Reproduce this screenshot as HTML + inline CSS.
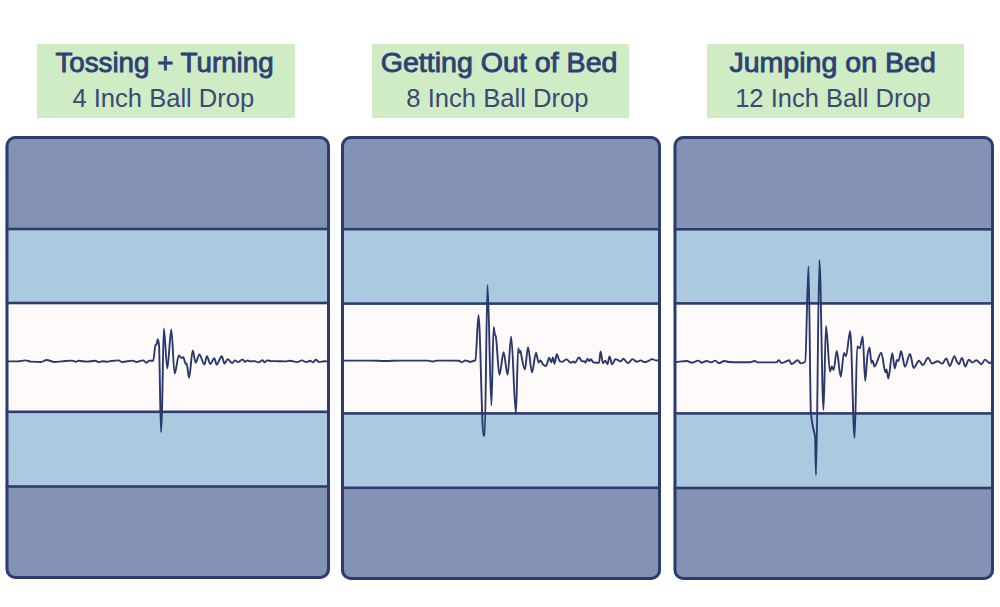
<!DOCTYPE html>
<html><head><meta charset="utf-8"><style>
html,body{margin:0;padding:0;background:#fff;width:1000px;height:607px;overflow:hidden}
svg{display:block}
</style></head><body>
<svg width="1000" height="607" viewBox="0 0 1000 607">
<clipPath id="c0"><rect x="5.5" y="136" width="324.5" height="443" rx="10" ry="10"/></clipPath>
<g clip-path="url(#c0)"><rect x="5.5" y="136" width="324.5" height="93" fill="#8493b5"/><rect x="5.5" y="229" width="324.5" height="74" fill="#abc9df"/><rect x="5.5" y="303" width="324.5" height="108.80000000000001" fill="#fffafa"/><rect x="5.5" y="411.8" width="324.5" height="74.69999999999999" fill="#abc9df"/><rect x="5.5" y="486.5" width="324.5" height="92.5" fill="#8493b5"/><rect x="5.5" y="227.7" width="324.5" height="2.6" fill="#2c3c6e"/><rect x="5.5" y="301.7" width="324.5" height="2.6" fill="#2c3c6e"/><rect x="5.5" y="410.5" width="324.5" height="2.6" fill="#2c3c6e"/><rect x="5.5" y="485.2" width="324.5" height="2.6" fill="#2c3c6e"/><path d="M8.00,361.40 C11.33,361.40 14.67,361.40 18.00,361.40 C20.43,361.40 22.87,360.40 25.30,360.40 C27.20,360.40 29.10,361.46 31.00,361.60 C34.33,361.84 37.67,362.00 41.00,362.00 C42.87,362.00 44.73,360.00 46.60,360.00 C49.23,360.00 51.87,362.00 54.50,362.00 C57.00,362.00 59.50,361.60 62.00,361.40 C65.27,361.14 68.53,360.60 71.80,360.60 C73.20,360.60 74.60,361.80 76.00,361.80 C76.87,361.80 77.73,360.80 78.60,360.80 C81.40,360.80 84.20,361.60 87.00,361.60 C89.67,361.60 92.33,360.80 95.00,360.80 C96.33,360.80 97.67,362.00 99.00,362.00 C100.33,362.00 101.67,361.20 103.00,361.20 C104.33,361.20 105.67,361.80 107.00,361.80 C108.33,361.80 109.67,361.16 111.00,361.00 C113.53,360.70 116.07,360.40 118.60,360.40 C119.80,360.40 121.00,362.00 122.20,362.00 C125.67,362.00 129.13,360.60 132.60,360.60 C133.93,360.60 135.27,362.00 136.60,362.00 C138.73,362.00 140.87,360.40 143.00,360.40 C144.20,360.40 145.40,362.80 146.60,362.80 C147.53,362.80 148.47,360.60 149.40,360.60 C150.67,360.60 151.93,360.80 153.20,360.80 C153.97,360.80 154.73,345.64 155.50,345.00 C155.83,344.72 156.17,344.79 156.50,344.50 C156.93,344.13 157.37,339.30 157.80,339.30 C158.20,339.30 158.60,341.79 159.00,345.00 C159.67,350.35 160.33,432.00 161.00,432.00 C161.33,432.00 161.67,419.56 162.00,410.00 C162.60,392.79 163.20,328.40 163.80,328.40 C164.97,328.40 166.13,368.50 167.30,368.50 C168.63,368.50 169.97,329.50 171.30,329.50 C172.40,329.50 173.50,373.60 174.60,373.60 C176.03,373.60 177.47,355.50 178.90,355.50 C179.77,355.50 180.63,358.00 181.50,358.00 C182.10,358.00 182.70,357.30 183.30,357.30 C184.13,357.30 184.97,364.00 185.80,364.00 C186.07,364.00 186.33,363.40 186.60,363.40 C187.43,363.40 188.27,377.90 189.10,377.90 C190.30,377.90 191.50,350.50 192.70,350.50 C193.70,350.50 194.70,362.70 195.70,362.70 C196.93,362.70 198.17,354.50 199.40,354.50 C201.07,354.50 202.73,364.60 204.40,364.60 C205.23,364.60 206.07,356.20 206.90,356.20 C208.03,356.20 209.17,364.00 210.30,364.00 C211.63,364.00 212.97,358.20 214.30,358.20 C215.10,358.20 215.90,364.60 216.70,364.60 C218.37,364.60 220.03,356.20 221.70,356.20 C222.67,356.20 223.63,363.60 224.60,363.60 C225.60,363.60 226.60,359.10 227.60,359.10 C229.17,359.10 230.73,363.10 232.30,363.10 C233.17,363.10 234.03,360.40 234.90,360.40 C236.00,360.40 237.10,362.10 238.20,362.10 C239.63,362.10 241.07,359.40 242.50,359.40 C243.37,359.40 244.23,361.80 245.10,361.80 C245.97,361.80 246.83,360.40 247.70,360.40 C248.47,360.40 249.23,361.40 250.00,361.40 C251.57,361.40 253.13,361.10 254.70,361.10 C256.00,361.10 257.30,362.40 258.60,362.40 C259.93,362.40 261.27,360.10 262.60,360.10 C263.27,360.10 263.93,362.40 264.60,362.40 C265.47,362.40 266.33,360.40 267.20,360.40 C268.50,360.40 269.80,361.06 271.10,361.10 C273.40,361.17 275.70,361.16 278.00,361.20 C280.33,361.24 282.67,361.40 285.00,361.40 C286.63,361.40 288.27,360.80 289.90,360.80 C292.30,360.80 294.70,362.10 297.10,362.10 C298.67,362.10 300.23,360.40 301.80,360.40 C303.33,360.40 304.87,362.10 306.40,362.10 C307.70,362.10 309.00,360.80 310.30,360.80 C311.20,360.80 312.10,362.40 313.00,362.40 C313.87,362.40 314.73,359.80 315.60,359.80 C316.93,359.80 318.27,362.10 319.60,362.10 C321.07,362.10 322.53,361.30 324.00,361.30 C325.33,361.30 326.67,361.43 328.00,361.50" fill="none" stroke="#2b386b" stroke-width="1.9" stroke-linejoin="round" stroke-linecap="round"/></g>
<rect x="7.0" y="137.5" width="321.5" height="440" rx="8.5" ry="8.5" fill="none" stroke="#2c3c6e" stroke-width="3"/>
<clipPath id="c1"><rect x="341" y="136" width="320" height="444" rx="10" ry="10"/></clipPath>
<g clip-path="url(#c1)"><rect x="341" y="136" width="320" height="93.19999999999999" fill="#8493b5"/><rect x="341" y="229.2" width="320" height="74.40000000000003" fill="#abc9df"/><rect x="341" y="303.6" width="320" height="109.79999999999995" fill="#fffafa"/><rect x="341" y="413.4" width="320" height="74.40000000000003" fill="#abc9df"/><rect x="341" y="487.8" width="320" height="92.19999999999999" fill="#8493b5"/><rect x="341" y="227.89999999999998" width="320" height="2.6" fill="#2c3c6e"/><rect x="341" y="302.3" width="320" height="2.6" fill="#2c3c6e"/><rect x="341" y="412.09999999999997" width="320" height="2.6" fill="#2c3c6e"/><rect x="341" y="486.5" width="320" height="2.6" fill="#2c3c6e"/><path d="M343.00,360.60 C352.00,360.60 361.00,360.60 370.00,360.60 C375.00,360.60 380.00,361.00 385.00,361.00 C390.00,361.00 395.00,360.60 400.00,360.60 C409.33,360.60 418.67,360.60 428.00,360.60 C429.60,360.60 431.20,361.50 432.80,361.50 C434.20,361.50 435.60,360.60 437.00,360.60 C443.00,360.60 449.00,360.60 455.00,360.60 C456.33,360.60 457.67,360.67 459.00,360.80 C460.00,360.89 461.00,362.20 462.00,362.20 C463.00,362.20 464.00,360.50 465.00,360.50 C465.83,360.50 466.67,360.79 467.50,361.00 C468.43,361.24 469.37,362.00 470.30,362.00 C471.20,362.00 472.10,361.27 473.00,361.00 C473.80,360.76 474.60,360.78 475.40,360.40 C476.43,359.91 477.47,315.30 478.50,315.30 C480.17,315.30 481.83,435.50 483.50,435.50 C483.90,435.50 484.30,435.50 484.70,435.50 C485.63,435.50 486.57,285.00 487.50,285.00 C488.80,285.00 490.10,405.50 491.40,405.50 C492.13,405.50 492.87,327.20 493.60,327.20 C494.00,327.20 494.40,332.63 494.80,334.00 C495.13,335.14 495.47,335.29 495.80,336.50 C497.00,340.85 498.20,374.80 499.40,374.80 C500.80,374.80 502.20,352.30 503.60,352.30 C504.93,352.30 506.27,374.80 507.60,374.80 C508.80,374.80 510.00,336.80 511.20,336.80 C512.77,336.80 514.33,413.50 515.90,413.50 C516.67,413.50 517.43,348.20 518.20,348.20 C518.63,348.20 519.07,352.50 519.50,352.50 C519.83,352.50 520.17,351.00 520.50,351.00 C520.87,351.00 521.23,355.32 521.60,357.00 C522.70,362.05 523.80,369.40 524.90,369.40 C525.93,369.40 526.97,347.20 528.00,347.20 C529.33,347.20 530.67,372.40 532.00,372.40 C533.33,372.40 534.67,352.60 536.00,352.60 C536.87,352.60 537.73,362.50 538.60,362.50 C539.27,362.50 539.93,360.40 540.60,360.40 C541.40,360.40 542.20,363.73 543.00,364.40 C543.97,365.21 544.93,366.00 545.90,366.00 C547.00,366.00 548.10,357.80 549.20,357.80 C549.87,357.80 550.53,362.40 551.20,362.40 C551.77,362.40 552.33,357.50 552.90,357.50 C553.43,357.50 553.97,363.70 554.50,363.70 C555.27,363.70 556.03,354.20 556.80,354.20 C557.80,354.20 558.80,361.12 559.80,361.40 C560.67,361.65 561.53,361.80 562.40,361.80 C563.73,361.80 565.07,359.40 566.40,359.40 C567.93,359.40 569.47,362.70 571.00,362.70 C571.77,362.70 572.53,361.40 573.30,361.40 C573.87,361.40 574.43,362.70 575.00,362.70 C576.30,362.70 577.60,357.50 578.90,357.50 C580.00,357.50 581.10,361.40 582.20,361.40 C582.87,361.40 583.53,361.10 584.20,361.10 C584.63,361.10 585.07,362.70 585.50,362.70 C586.17,362.70 586.83,358.80 587.50,358.80 C588.13,358.80 588.77,361.10 589.40,361.10 C589.87,361.10 590.33,359.10 590.80,359.10 C591.67,359.10 592.53,362.22 593.40,362.40 C594.27,362.58 595.13,362.70 596.00,362.70 C597.00,362.70 598.00,362.70 599.00,362.70 C599.53,362.70 600.07,351.50 600.60,351.50 C601.37,351.50 602.13,363.10 602.90,363.10 C603.67,363.10 604.43,360.80 605.20,360.80 C605.97,360.80 606.73,364.10 607.50,364.10 C608.17,364.10 608.83,356.50 609.50,356.50 C610.40,356.50 611.30,364.40 612.20,364.40 C613.27,364.40 614.33,359.10 615.40,359.10 C616.30,359.10 617.20,359.72 618.10,360.10 C618.97,360.47 619.83,361.40 620.70,361.40 C621.60,361.40 622.50,358.80 623.40,358.80 C624.93,358.80 626.47,363.10 628.00,363.10 C629.53,363.10 631.07,359.10 632.60,359.10 C634.03,359.10 635.47,361.80 636.90,361.80 C638.20,361.80 639.50,360.40 640.80,360.40 C641.90,360.40 643.00,362.10 644.10,362.10 C645.43,362.10 646.77,361.55 648.10,361.10 C649.40,360.66 650.70,359.10 652.00,359.10 C653.33,359.10 654.67,360.32 656.00,360.40 C657.00,360.46 658.00,360.47 659.00,360.50" fill="none" stroke="#2b386b" stroke-width="1.9" stroke-linejoin="round" stroke-linecap="round"/></g>
<rect x="342.5" y="137.5" width="317" height="441" rx="8.5" ry="8.5" fill="none" stroke="#2c3c6e" stroke-width="3"/>
<clipPath id="c2"><rect x="673.5" y="136" width="320.5" height="444" rx="10" ry="10"/></clipPath>
<g clip-path="url(#c2)"><rect x="673.5" y="136" width="320.5" height="93.30000000000001" fill="#8493b5"/><rect x="673.5" y="229.3" width="320.5" height="74.09999999999997" fill="#abc9df"/><rect x="673.5" y="303.4" width="320.5" height="110.0" fill="#fffafa"/><rect x="673.5" y="413.4" width="320.5" height="74.60000000000002" fill="#abc9df"/><rect x="673.5" y="488" width="320.5" height="92" fill="#8493b5"/><rect x="673.5" y="228.0" width="320.5" height="2.6" fill="#2c3c6e"/><rect x="673.5" y="302.09999999999997" width="320.5" height="2.6" fill="#2c3c6e"/><rect x="673.5" y="412.09999999999997" width="320.5" height="2.6" fill="#2c3c6e"/><rect x="673.5" y="486.7" width="320.5" height="2.6" fill="#2c3c6e"/><path d="M676.00,362.00 C679.67,361.67 683.33,361.00 687.00,361.00 C688.63,361.00 690.27,362.70 691.90,362.70 C694.10,362.70 696.30,360.60 698.50,360.60 C699.43,360.60 700.37,362.70 701.30,362.70 C703.07,362.70 704.83,361.00 706.60,361.00 C708.10,361.00 709.60,362.40 711.10,362.40 C712.50,362.40 713.90,360.60 715.30,360.60 C716.47,360.60 717.63,363.10 718.80,363.10 C720.67,363.10 722.53,361.00 724.40,361.00 C725.93,361.00 727.47,361.92 729.00,362.00 C732.67,362.20 736.33,362.30 740.00,362.30 C743.33,362.30 746.67,362.27 750.00,362.20 C751.57,362.17 753.13,361.00 754.70,361.00 C755.87,361.00 757.03,362.40 758.20,362.40 C764.27,362.40 770.33,362.40 776.40,362.40 C777.20,362.40 778.00,360.30 778.80,360.30 C779.73,360.30 780.67,363.10 781.60,363.10 C782.90,363.10 784.20,362.17 785.50,361.70 C786.77,361.24 788.03,360.30 789.30,360.30 C790.00,360.30 790.70,364.10 791.40,364.10 C793.50,364.10 795.60,360.30 797.70,360.30 C798.77,360.30 799.83,363.40 800.90,363.40 C802.33,363.40 803.77,362.84 805.20,361.60 C806.30,360.65 807.40,266.50 808.50,266.50 C809.30,266.50 810.10,403.68 810.90,413.00 C811.73,422.71 812.57,424.52 813.40,429.00 C813.97,432.04 814.53,431.77 815.10,437.00 C815.40,439.77 815.70,475.00 816.00,475.00 C817.13,475.00 818.27,260.20 819.40,260.20 C820.77,260.20 822.13,410.00 823.50,410.00 C824.33,410.00 825.17,325.90 826.00,325.90 C827.33,325.90 828.67,371.50 830.00,371.50 C830.60,371.50 831.20,366.50 831.80,366.50 C832.40,366.50 833.00,370.00 833.60,370.00 C834.67,370.00 835.73,351.00 836.80,351.00 C838.10,351.00 839.40,376.70 840.70,376.70 C841.80,376.70 842.90,353.00 844.00,353.00 C844.67,353.00 845.33,356.20 846.00,356.20 C847.40,356.20 848.80,331.20 850.20,331.20 C851.67,331.20 853.13,437.80 854.60,437.80 C855.47,437.80 856.33,346.40 857.20,346.40 C858.07,346.40 858.93,348.30 859.80,348.30 C860.77,348.30 861.73,336.50 862.70,336.50 C863.53,336.50 864.37,381.00 865.20,381.00 C865.97,381.00 866.73,359.27 867.50,355.00 C868.17,351.29 868.83,347.50 869.50,347.50 C870.17,347.50 870.83,363.00 871.50,363.00 C871.90,363.00 872.30,360.80 872.70,360.80 C873.27,360.80 873.83,366.50 874.40,366.50 C876.70,366.50 879.00,352.70 881.30,352.70 C882.67,352.70 884.03,372.30 885.40,372.30 C885.77,372.30 886.13,369.40 886.50,369.40 C887.10,369.40 887.70,378.60 888.30,378.60 C889.63,378.60 890.97,353.20 892.30,353.20 C893.13,353.20 893.97,368.40 894.80,368.40 C895.53,368.40 896.27,360.00 897.00,360.00 C897.50,360.00 898.00,361.00 898.50,361.00 C899.33,361.00 900.17,351.30 901.00,351.30 C902.33,351.30 903.67,366.70 905.00,366.70 C906.67,366.70 908.33,354.00 910.00,354.00 C911.23,354.00 912.47,368.00 913.70,368.00 C915.47,368.00 917.23,360.80 919.00,360.80 C920.27,360.80 921.53,365.10 922.80,365.10 C924.57,365.10 926.33,357.80 928.10,357.80 C929.40,357.80 930.70,363.40 932.00,363.40 C933.90,363.40 935.80,361.30 937.70,361.30 C939.23,361.30 940.77,363.60 942.30,363.60 C943.63,363.60 944.97,358.40 946.30,358.40 C947.47,358.40 948.63,366.00 949.80,366.00 C951.33,366.00 952.87,356.10 954.40,356.10 C955.17,356.10 955.93,360.06 956.70,361.30 C957.47,362.54 958.23,364.20 959.00,364.20 C959.97,364.20 960.93,357.90 961.90,357.90 C963.07,357.90 964.23,366.50 965.40,366.50 C966.53,366.50 967.67,359.60 968.80,359.60 C969.97,359.60 971.13,362.50 972.30,362.50 C973.63,362.50 974.97,360.20 976.30,360.20 C978.03,360.20 979.77,364.20 981.50,364.20 C982.67,364.20 983.83,359.60 985.00,359.60 C986.53,359.60 988.07,363.00 989.60,363.00 C990.40,363.00 991.20,362.33 992.00,362.00" fill="none" stroke="#2b386b" stroke-width="1.9" stroke-linejoin="round" stroke-linecap="round"/></g>
<rect x="675.0" y="137.5" width="317.5" height="441" rx="8.5" ry="8.5" fill="none" stroke="#2c3c6e" stroke-width="3"/>
<rect x="37" y="44" width="258" height="74" fill="#cfecc4"/>
<text x="55.4" y="72.2" textLength="218.2" lengthAdjust="spacingAndGlyphs" font-family="&quot;Liberation Sans&quot;, sans-serif" font-size="27" fill="#2e4174" stroke="#2e4174" stroke-width="0.85">Tossing + Turning</text>
<text x="72.4" y="106.8" textLength="181.9" lengthAdjust="spacingAndGlyphs" font-family="&quot;Liberation Sans&quot;, sans-serif" font-size="25" fill="#3a4a75">4 Inch Ball Drop</text>
<rect x="372" y="44" width="257" height="74" fill="#cfecc4"/>
<text x="380.7" y="72.2" textLength="236.8" lengthAdjust="spacingAndGlyphs" font-family="&quot;Liberation Sans&quot;, sans-serif" font-size="27" fill="#2e4174" stroke="#2e4174" stroke-width="0.85">Getting Out of Bed</text>
<text x="406.3" y="106.8" textLength="182.3" lengthAdjust="spacingAndGlyphs" font-family="&quot;Liberation Sans&quot;, sans-serif" font-size="25" fill="#3a4a75">8 Inch Ball Drop</text>
<rect x="707" y="44" width="257" height="74" fill="#cfecc4"/>
<text x="729.4" y="72.2" textLength="206.4" lengthAdjust="spacingAndGlyphs" font-family="&quot;Liberation Sans&quot;, sans-serif" font-size="27" fill="#2e4174" stroke="#2e4174" stroke-width="0.85">Jumping on Bed</text>
<text x="735.2" y="106.8" textLength="195.6" lengthAdjust="spacingAndGlyphs" font-family="&quot;Liberation Sans&quot;, sans-serif" font-size="25" fill="#3a4a75">12 Inch Ball Drop</text>
</svg>
</body></html>
